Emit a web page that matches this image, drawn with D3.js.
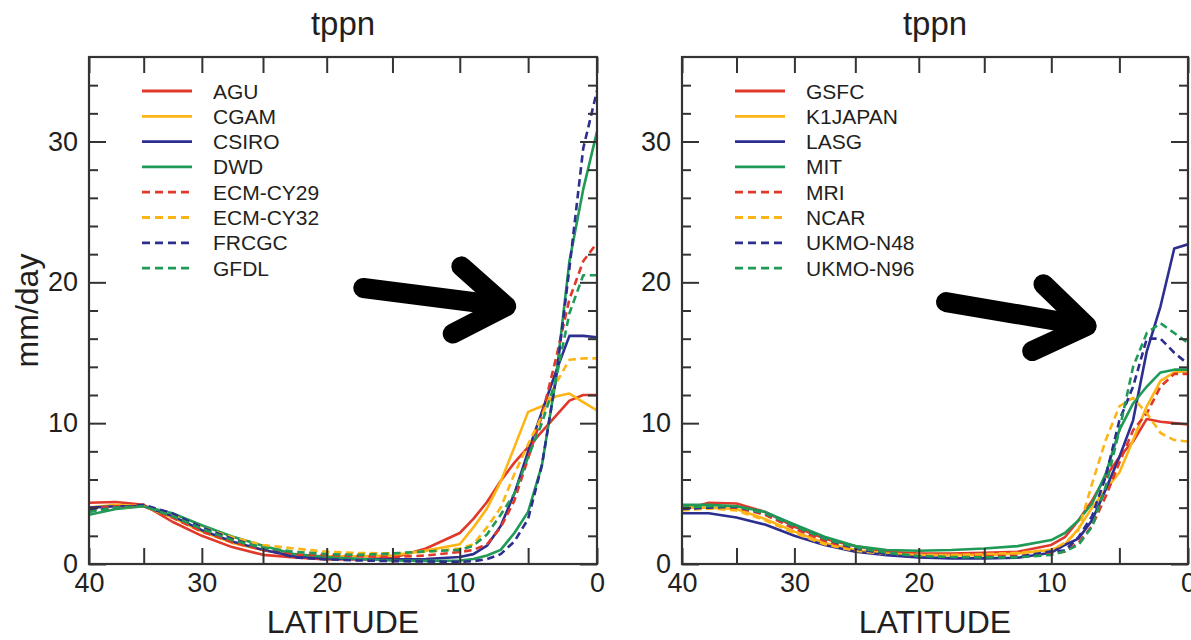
<!DOCTYPE html>
<html>
<head>
<meta charset="utf-8">
<script src="https://cdn.jsdelivr.net/npm/d3@7"></script>
<style>
  body { margin: 0; background: #fff; }
  svg text { font-family: "Liberation Sans", Arial, sans-serif; fill: #231f20; }
</style>
</head>
<body>
<svg id="chart" width="1191" height="640"></svg>
<script>
// latitude grid (degrees), shared by all series
const lats = [40, 37.5, 35, 32.5, 30, 27.5, 25, 22.5, 20, 17.5, 15, 12.5, 10, 9, 8, 7, 6, 5, 4, 3, 2, 1, 0];

// left panel models (mm/day)
const leftModels = ["AGU", "CGAM", "CSIRO", "DWD", "ECM-CY29", "ECM-CY32", "FRCGC", "GFDL"];
const agu     = [4.35, 4.4, 4.2, 3.0, 2.0, 1.2, 0.65, 0.47, 0.33, 0.33, 0.42, 1.1, 2.2, 3.2, 4.4, 5.9, 7.2, 8.3, 9.4, 10.5, 11.6, 12.0, 12.0];
const cgam    = [4.0, 4.2, 4.1, 3.3, 2.3, 1.5, 1.0, 0.6, 0.55, 0.55, 0.6, 0.95, 1.4, 2.6, 3.95, 5.85, 8.3, 10.8, 11.2, 11.9, 12.1, 11.5, 10.9];
const csiro   = [4.0, 4.1, 4.1, 3.4, 2.4, 1.6, 1.0, 0.55, 0.4, 0.35, 0.33, 0.35, 0.5, 0.7, 1.3, 2.7, 5.0, 8.0, 10.8, 13.6, 16.2, 16.2, 16.1];
const dwd     = [3.5, 3.9, 4.1, 3.6, 2.75, 1.95, 1.3, 0.7, 0.5, 0.35, 0.25, 0.22, 0.25, 0.35, 0.6, 1.0, 2.2, 3.7, 7.0, 13.0, 21.5, 26.6, 30.7];
const ecmCy29 = [3.9, 4.1, 4.1, 3.3, 2.3, 1.55, 1.0, 0.65, 0.63, 0.55, 0.5, 0.6, 0.85, 1.0, 1.4, 2.6, 4.5, 7.5, 10.5, 14.5, 18.8, 21.5, 22.8];
const ecmCy32 = [3.8, 4.0, 4.1, 3.5, 2.6, 1.9, 1.35, 1.1, 0.87, 0.78, 0.75, 0.87, 1.1, 1.4, 2.6, 4.0, 6.4, 8.5, 10.5, 12.8, 14.5, 14.6, 14.6];
const frcgc   = [3.8, 4.0, 4.2, 3.6, 2.6, 1.8, 1.1, 0.47, 0.33, 0.25, 0.2, 0.18, 0.15, 0.2, 0.35, 0.7, 1.6, 3.2, 7.0, 13.0, 21.0, 29.5, 33.6];
const gfdl    = [3.7, 4.0, 4.1, 3.4, 2.5, 1.7, 1.15, 0.87, 0.7, 0.65, 0.75, 0.9, 1.0, 1.3, 2.1, 3.5, 5.0, 7.6, 10.0, 13.0, 17.8, 20.5, 20.5];

// right panel models (mm/day)
const rightModels = ["GSFC", "K1JAPAN", "LASG", "MIT", "MRI", "NCAR", "UKMO-N48", "UKMO-N96"];
const gsfc    = [3.83, 4.35, 4.3, 3.7, 2.65, 1.8, 1.27, 0.87, 0.75, 0.75, 0.8, 0.87, 1.35, 1.9, 3.1, 4.5, 6.2, 7.6, 8.7, 10.3, 10.1, 10.0, 9.9];
const k1japan = [4.0, 4.0, 3.9, 3.2, 2.3, 1.5, 1.0, 0.75, 0.63, 0.63, 0.63, 0.75, 1.0, 1.4, 2.5, 4.0, 5.3, 6.5, 8.8, 11.2, 13.0, 13.6, 13.7];
const lasg    = [3.6, 3.6, 3.3, 2.8, 2.0, 1.35, 0.87, 0.63, 0.47, 0.4, 0.4, 0.44, 0.8, 1.35, 1.8, 3.1, 5.3, 7.6, 10.2, 15.1, 18.3, 22.4, 22.7];
const mit     = [4.2, 4.2, 4.1, 3.7, 2.8, 1.93, 1.27, 0.99, 0.94, 0.99, 1.1, 1.27, 1.7, 2.2, 3.1, 4.3, 6.4, 9.5, 11.4, 12.6, 13.6, 13.8, 13.8];
const mri     = [3.9, 4.0, 4.0, 3.5, 2.5, 1.65, 1.0, 0.75, 0.63, 0.63, 0.63, 0.56, 0.75, 0.87, 1.5, 2.7, 4.8, 7.2, 9.5, 10.7, 12.6, 13.5, 13.5];
const ncar    = [3.8, 3.95, 3.8, 3.1, 2.2, 1.4, 0.94, 0.7, 0.63, 0.63, 0.7, 0.8, 1.0, 1.5, 2.4, 5.7, 8.8, 11.2, 11.8, 10.7, 9.3, 8.8, 8.7];
const ukmoN48 = [3.9, 4.0, 4.07, 3.6, 2.7, 1.8, 1.1, 0.7, 0.5, 0.47, 0.47, 0.5, 0.9, 0.95, 1.9, 3.4, 6.2, 10.2, 12.6, 16.0, 16.0, 15.0, 14.2];
const ukmoN96 = [4.0, 4.1, 4.1, 3.6, 2.7, 1.8, 1.17, 0.8, 0.56, 0.5, 0.47, 0.47, 0.65, 0.9, 1.35, 2.65, 5.5, 9.5, 14.0, 16.4, 17.1, 16.4, 15.7];

// axis ticks
const xTicks = [40, 35, 30, 25, 20, 15, 10, 5, 0];
const yMajor = [0, 10, 20, 30];
const yMinor = [2, 4, 6, 8, 12, 14, 16, 18, 22, 24, 26, 28, 32, 34];

// arrow annotations, in [latitude, mm/day]
const arrows = [
  { panel: 0, from: [17.2, 19.6], to: [6.6, 18.3] },
  { panel: 1, from: [17.9, 18.6], to: [7.4, 16.9] }
];

const colors = ["#e0392b", "#fdb515", "#2d2f8f", "#1f9a57"];

const panels = [
  { title: "tppn", models: leftModels, series: [agu, cgam, csiro, dwd, ecmCy29, ecmCy32, frcgc, gfdl], x0: 89, x1: 597, yLabel: true },
  { title: "tppn", models: rightModels, series: [gsfc, k1japan, lasg, mit, mri, ncar, ukmoN48, ukmoN96], x0: 682, x1: 1188, yLabel: false }
];

const svg = d3.select('#chart');
const plotTop = 57, plotBottom = 564;
const sinDeg = d => Math.sin(d * Math.PI / 180);

const y = d3.scaleLinear().domain([0, 36]).range([plotBottom, plotTop]);

panels.forEach((p, pi) => {
  // x axis is linear in sin(latitude)
  const xs = d3.scaleLinear().domain([sinDeg(40), 0]).range([p.x0, p.x1]);
  const x = lat => xs(sinDeg(lat));
  p.x = x;
  const g = svg.append('g');

  g.append('clipPath').attr('id', 'clip' + pi)
    .append('rect').attr('x', p.x0).attr('y', plotTop).attr('width', p.x1 - p.x0).attr('height', plotBottom - plotTop);

  // curves
  const line = d3.line().x((d, i) => x(lats[i])).y(d => y(d));
  const curves = g.append('g').attr('clip-path', `url(#clip${pi})`);
  p.series.forEach((s, i) => {
    curves.append('path')
      .attr('d', line(s))
      .attr('fill', 'none')
      .attr('stroke', colors[i % 4])
      .attr('stroke-width', 2.6)
      .attr('stroke-linejoin', 'round')
      .attr('stroke-dasharray', i >= 4 ? '7.5,4.5' : null);
  });

  // axes, ticks pointing inward on all four sides
  const xt = xTicks.map(sinDeg);
  const fmtX = d => { const v = Math.round(Math.asin(d) * 180 / Math.PI); return v % 10 === 0 ? v : ''; };
  g.append('g').attr('transform', `translate(0,${plotBottom})`)
    .call(d3.axisBottom(xs).tickValues(xt).tickSize(-16).tickPadding(9).tickFormat(fmtX));
  g.append('g').attr('transform', `translate(0,${plotTop})`)
    .call(d3.axisTop(xs).tickValues(xt).tickSize(-16).tickFormat(''));
  g.append('g').attr('transform', `translate(${p.x0},0)`)
    .call(d3.axisLeft(y).tickValues(yMajor).tickSize(-17).tickPadding(11).tickFormat(d3.format('d')));
  g.append('g').attr('transform', `translate(${p.x0},0)`)
    .call(d3.axisLeft(y).tickValues(yMinor).tickSize(-9).tickFormat(''));
  g.append('g').attr('transform', `translate(${p.x1},0)`)
    .call(d3.axisRight(y).tickValues(yMajor).tickSize(-17).tickFormat(''));
  g.append('g').attr('transform', `translate(${p.x1},0)`)
    .call(d3.axisRight(y).tickValues(yMinor).tickSize(-9).tickFormat(''));

  g.selectAll('.domain').remove();
  g.selectAll('.tick line').attr('stroke', '#333').attr('stroke-width', 2);
  g.selectAll('.tick text').attr('font-size', 27).attr('fill', '#231f20');

  g.append('rect')
    .attr('x', p.x0).attr('y', plotTop)
    .attr('width', p.x1 - p.x0).attr('height', plotBottom - plotTop)
    .attr('fill', 'none').attr('stroke', '#333').attr('stroke-width', 2.2);

  // titles and labels
  const cx = (p.x0 + p.x1) / 2;
  g.append('text').attr('x', cx).attr('y', 35).attr('text-anchor', 'middle')
    .attr('font-size', 33).text(p.title);
  g.append('text').attr('x', cx).attr('y', 633).attr('text-anchor', 'middle')
    .attr('font-size', 32).text('LATITUDE');
  if (p.yLabel) {
    g.append('text').attr('transform', `translate(38,${(plotTop + plotBottom) / 2}) rotate(-90)`)
      .attr('text-anchor', 'middle').attr('font-size', 32).text('mm/day');
  }

  // legend
  const leg = g.append('g').attr('transform', `translate(${p.x0},0)`);
  p.models.forEach((m, i) => {
    const ly = 91 + i * 25.3;
    leg.append('line')
      .attr('x1', 53).attr('x2', 103).attr('y1', ly).attr('y2', ly)
      .attr('stroke', colors[i % 4]).attr('stroke-width', 2.8)
      .attr('stroke-dasharray', i >= 4 ? '8,5' : null);
    leg.append('text').attr('x', 124).attr('y', ly).attr('dy', '0.36em')
      .attr('font-size', 21).text(m);
  });
});

// black arrows
arrows.forEach(a => {
  const p = panels[a.panel];
  const tx = p.x(a.from[0]), ty = y(a.from[1]);
  const hx = p.x(a.to[0]), hy = y(a.to[1]);
  const ang = Math.atan2(hy - ty, hx - tx);
  const back = ang + Math.PI, spread = 0.6, len = 60;
  const arm = s => [hx + len * Math.cos(back + s), hy + len * Math.sin(back + s)];
  const ag = svg.append('g').attr('fill', 'none').attr('stroke', '#000')
    .attr('stroke-width', 20).attr('stroke-linecap', 'round').attr('stroke-linejoin', 'round');
  ag.append('path').attr('d', d3.line()([[tx, ty], [hx - 6 * Math.cos(ang), hy - 6 * Math.sin(ang)]]));
  ag.append('path').attr('d', d3.line()([arm(-spread), [hx, hy], arm(spread)]));
});
</script>
</body>
</html>
